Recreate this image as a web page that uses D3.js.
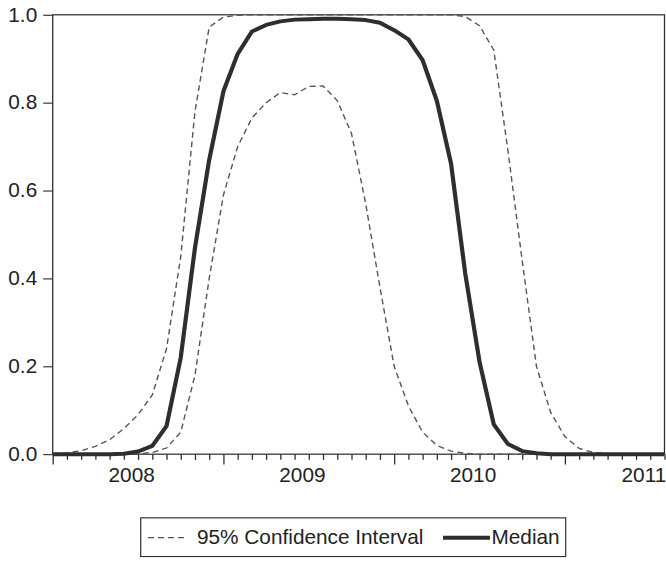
<!DOCTYPE html>
<html>
<head>
<meta charset="utf-8">
<script src="https://cdn.jsdelivr.net/npm/d3@7"></script>
<style>
	body { margin: 0; background: #fff; }
	svg { display: block; }
</style>
</head>
<body>
<div id="chart"></div>
<script>
const width = 666;
const height = 582;
// the source chart is drawn on a taller canvas and squeezed to 582
const srcHeight = 617;

// monthly observations, 2007M08 .. 2011M03
const months = [
	"2007M08", "2007M09", "2007M10", "2007M11", "2007M12",
	"2008M01", "2008M02", "2008M03", "2008M04", "2008M05", "2008M06",
	"2008M07", "2008M08", "2008M09", "2008M10", "2008M11", "2008M12",
	"2009M01", "2009M02", "2009M03", "2009M04", "2009M05", "2009M06",
	"2009M07", "2009M08", "2009M09", "2009M10", "2009M11", "2009M12",
	"2010M01", "2010M02", "2010M03", "2010M04", "2010M05", "2010M06",
	"2010M07", "2010M08", "2010M09", "2010M10", "2010M11", "2010M12",
	"2011M01", "2011M02", "2011M03"
];

const median = [
	0, 0, 0, 0, 0, 0.001, 0.006, 0.019, 0.064, 0.22, 0.47,
	0.67, 0.826, 0.911, 0.962, 0.977, 0.985, 0.989, 0.99, 0.991, 0.991,
	0.99, 0.988, 0.982, 0.965, 0.944, 0.897, 0.804, 0.661, 0.41, 0.21,
	0.068, 0.023, 0.007, 0.002, 0, 0, 0, 0, 0, 0, 0, 0, 0
];

const upper = [
	0.001, 0.003, 0.008, 0.018, 0.033, 0.058, 0.09, 0.135, 0.24, 0.45, 0.78,
	0.972, 0.995, 0.999, 1, 1, 1, 1, 1, 1, 1,
	1, 1, 1, 1, 1, 1, 1, 1, 0.996, 0.975,
	0.92, 0.69, 0.44, 0.2, 0.095, 0.04, 0.013, 0.004, 0.001, 0, 0, 0, 0
];

const lower = [
	0, 0, 0, 0, 0, 0, 0.001, 0.004, 0.014, 0.05, 0.18,
	0.4, 0.59, 0.7, 0.765, 0.8, 0.823, 0.818, 0.837, 0.838, 0.805,
	0.73, 0.57, 0.38, 0.2, 0.11, 0.05, 0.02, 0.007, 0.002, 0,
	0, 0, 0, 0, 0, 0, 0, 0, 0, 0, 0, 0, 0
];

const yTicks = [0, 0.2, 0.4, 0.6, 0.8, 1.0];
const yearLabels = ["2008", "2009", "2010", "2011"];

const margin = { top: 15.7, right: 1.5, bottom: srcHeight - 481.5, left: 52.7 };

const svg = d3.select("#chart")
	.append("svg")
	.attr("width", width)
	.attr("height", height)
	.attr("viewBox", "0 0 " + width + " " + srcHeight)
	.attr("preserveAspectRatio", "none");

const x = d3.scaleLinear()
	.domain([0, months.length - 1])
	.range([margin.left, width - margin.right]);

const y = d3.scaleLinear()
	.domain([0, 1])
	.range([srcHeight - margin.bottom, margin.top]);

const ink = "#2e2e2e";
const font = "'Liberation Sans', Arial, Helvetica, sans-serif";

// frame
svg.append("rect")
	.attr("x", x(0))
	.attr("y", y(1))
	.attr("width", x(months.length - 1) - x(0))
	.attr("height", y(0) - y(1))
	.attr("fill", "none")
	.attr("stroke", ink)
	.attr("stroke-width", 1.3);

// y axis
const yAxis = d3.axisLeft(y)
	.tickValues(yTicks)
	.tickFormat(d3.format(".1f"))
	.tickSize(9.5)
	.tickPadding(6);

svg.append("g")
	.attr("transform", "translate(" + x(0) + ",0)")
	.call(yAxis)
	.call(g => g.select(".domain").remove())
	.call(g => g.selectAll("line").attr("stroke", ink).attr("stroke-width", 1.2))
	.call(g => g.selectAll("text")
		.attr("fill", "#222")
		.style("font-family", font)
		.style("font-size", "20.8px"));

// x axis: a tick per month, a long tick every 12 months
const xAxis = d3.axisBottom(x)
	.tickValues(d3.range(0, months.length))
	.tickFormat("")
	.tickSize(6);

const xg = svg.append("g")
	.attr("transform", "translate(0," + y(0) + ")")
	.call(xAxis)
	.call(g => g.select(".domain").remove());

xg.selectAll(".tick line")
	.attr("stroke", ink)
	.attr("stroke-width", 1.3)
	.attr("y2", d => (d % 12 === 0 ? 11 : 6));

// year labels sit in the middle of January
xg.selectAll(".year")
	.data(yearLabels)
	.enter()
	.append("text")
	.attr("class", "year")
	.attr("x", d => x(months.indexOf(d + "M01") + 0.55))
	.attr("y", 30)
	.attr("text-anchor", "middle")
	.attr("fill", "#222")
	.style("font-family", font)
	.style("font-size", "20.8px")
	.text(d => d);

// clip for lines
svg.append("clipPath")
	.attr("id", "clip")
	.append("rect")
	.attr("x", x(0))
	.attr("y", y(1) - 3)
	.attr("width", x(months.length - 1) - x(0))
	.attr("height", y(0) - y(1) + 6);

const line = d3.line()
	.x((d, i) => x(i))
	.y(d => y(d));

const plot = svg.append("g").attr("clip-path", "url(#clip)");

[upper, lower].forEach(s => {
	plot.append("path")
		.datum(s)
		.attr("d", line)
		.attr("fill", "none")
		.attr("stroke", "#555")
		.attr("stroke-width", 1.4)
		.attr("stroke-dasharray", "6,4");
});

plot.append("path")
	.datum(median)
	.attr("d", line)
	.attr("fill", "none")
	.attr("stroke", ink)
	.attr("stroke-width", 4.2)
	.attr("stroke-linejoin", "round");

// legend
const lg = svg.append("g");
lg.append("rect")
	.attr("x", 140.7)
	.attr("y", 549)
	.attr("width", 425)
	.attr("height", 41)
	.attr("fill", "#fff")
	.attr("stroke", ink)
	.attr("stroke-width", 1.2);

lg.append("line")
	.attr("x1", 148).attr("x2", 188)
	.attr("y1", 570).attr("y2", 570)
	.attr("stroke", "#555")
	.attr("stroke-width", 1.4)
	.attr("stroke-dasharray", "6,4");

lg.append("text")
	.attr("x", 197)
	.attr("y", 577)
	.attr("fill", "#222")
	.style("font-family", font)
	.style("font-size", "20.8px")
	.text("95% Confidence Interval");

lg.append("line")
	.attr("x1", 443).attr("x2", 490)
	.attr("y1", 570).attr("y2", 570)
	.attr("stroke", ink)
	.attr("stroke-width", 4.2);

lg.append("text")
	.attr("x", 491.5)
	.attr("y", 577)
	.attr("fill", "#222")
	.style("font-family", font)
	.style("font-size", "20.8px")
	.text("Median");
</script>
</body>
</html>
